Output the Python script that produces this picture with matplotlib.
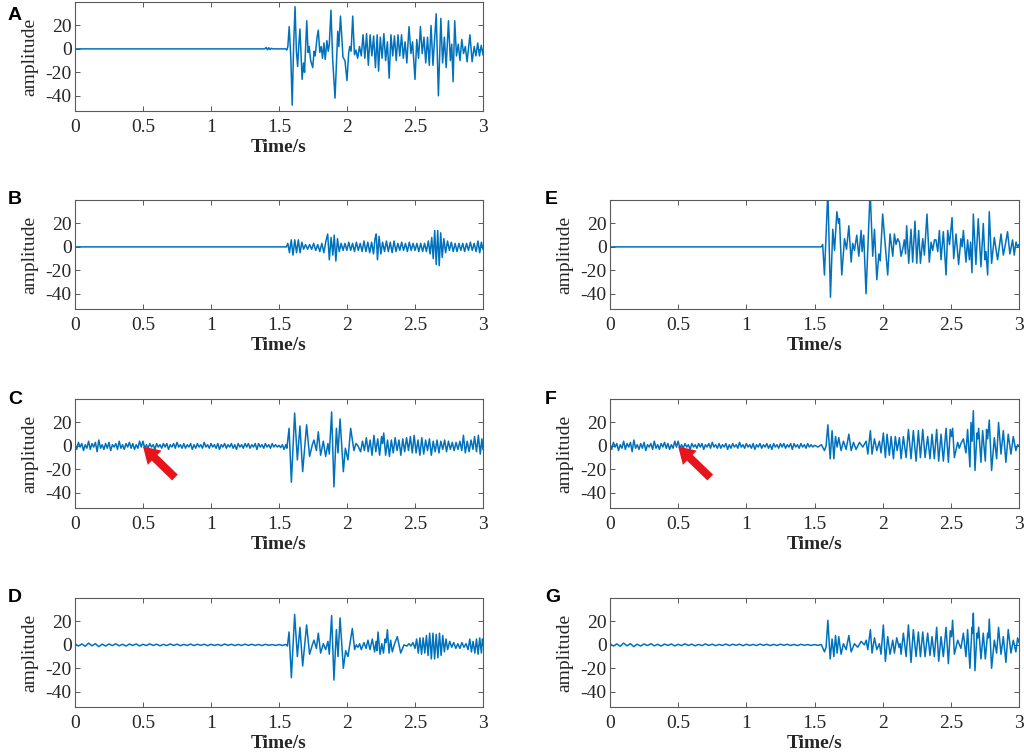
import numpy as np
import matplotlib
matplotlib.use("Agg")
import matplotlib.pyplot as plt

# ---------------- data ----------------
x_ticks = [0, 0.5, 1, 1.5, 2, 2.5, 3]
x_ticklabels = ["0", "0.5", "1", "1.5", "2", "2.5", "3"]
y_ticks = [-40, -20, 0, 20]
y_ticklabels = ["-40", "-20", "0", "20"]
x_range = (0, 3)
y_range = (-53, 40)
panel_letters = ["A", "B", "C", "D", "E", "F", "G"]
x_label = "Time/s"
y_label = "amplitude"

# pre-event noise (C and F), sampled every 0.0125 s from t = 0
noise_dt = 0.0125
noise_CF = [2, -3, 3, -1, 2, -4, 1, -2, 4, -3, 2, -1, 3, -5, 5, -2, 1, -3, 2, -2,
            3, -4, 1, -1, 2, -3, 4, -2, 1, -3, 2, -1, 3, -2, 2, -3, 1, -2, 4, -1,
            4, -2, 1, -2, 2, -1, 1, -3, 2, -1, 1, -2, 2, -1, 2, -3, 1, -1, 2, -2,
            3, -1, 1, -2, 2, -2, 1, -1, 2, -3, 1, -2, 2, -1, 1, -2, 3, -1, 1, -2,
            2, -1, 1, -2, 2, -3, 1, -1, 2, -2, 1, -1, 2, -2, 1, -3, 2, -1, 1, -2,
            2, -1, 2, -2, 1, -1, 2, -3, 2, -1, 1, -2, 2, -1, 1, -2, 2, -1, 1, -1]
# pre-event noise (D and G), sampled every 0.025 s from t = 0
small_dt = 0.025
noise_DG = [1, -1, 0.8, -1.2, 1.5, -0.8, 1, -1.5, 0.6, -1, 0.8, -0.6, 1, -0.8, 0.5,
            -1, 0.7, -0.5, 0.8, -0.9, 0.5, -0.6, 0.9, -0.5, 0.6, -0.8, 0.4, -0.6, 0.8, -0.5,
            0.6, -0.7, 0.4, -0.5, 0.7, -0.6, 0.5, -0.4, 0.6, -0.7, 0.5, -0.5, 0.4, -0.6, 0.7,
            -0.4, 0.5, -0.6, 0.4, -0.5, 0.6, -0.4, 0.5, -0.5, 0.4, -0.6, 0.5, -0.4, 0.3, -0.5]

# turning points (time s, amplitude) of each record
peaks_A = [(0, 0), (1.395, 0), (1.405, 1.2), (1.415, -0.8), (1.425, 1.0), (1.435, -0.6), (1.445, 0.5),
           (1.455, 0), (1.55, 0), (1.558, -1), (1.565, 2), (1.575, 19), (1.587, -8), (1.597, -48),
           (1.608, 5), (1.618, 36), (1.628, -2), (1.637, -15), (1.646, 4), (1.654, 17), (1.662, -5),
           (1.670, -26), (1.680, -12), (1.688, -20), (1.698, 8), (1.704, 24), (1.714, -3), (1.722, 2),
           (1.733, -10), (1.748, -16), (1.758, -2), (1.766, -6), (1.780, 10), (1.789, 16), (1.800, -3),
           (1.810, 2), (1.820, -8), (1.830, 5), (1.840, -9), (1.852, 7), (1.862, -2), (1.870, 4),
           (1.882, 33), (1.895, -10), (1.912, -42), (1.925, -4), (1.932, 15), (1.940, 2), (1.952, 28),
           (1.962, 10), (1.970, -7), (1.985, -10), (2.000, -27), (2.012, -4), (2.020, 2), (2.030, -2),
           (2.042, 28), (2.055, -5), (2.066, -1), (2.078, -8), (2.092, 2), (2.105, -6), (2.118, 12),
           (2.131, -8), (2.144, 13), (2.157, -14), (2.170, 12), (2.183, -6), (2.196, 11), (2.209, -16),
           (2.222, 12), (2.232, -19), (2.245, 10), (2.258, -8), (2.271, 13), (2.284, -10), (2.297, 6),
           (2.310, -25), (2.323, 12), (2.336, -6), (2.349, 11), (2.362, -10), (2.375, 12), (2.388, -6),
           (2.401, 12), (2.414, -8), (2.427, 6), (2.440, -12), (2.456, 19), (2.470, -4), (2.482, 6),
           (2.500, -26), (2.513, 8), (2.526, -8), (2.540, 19), (2.553, -4), (2.566, 10), (2.579, -12),
           (2.592, 10), (2.605, -14), (2.618, 20), (2.632, -14), (2.656, 30), (2.672, -40), (2.690, 26),
           (2.703, -12), (2.716, 10), (2.729, -16), (2.746, 24), (2.760, -10), (2.770, 4), (2.780, -28),
           (2.792, 24), (2.805, -6), (2.818, 4), (2.831, -10), (2.844, 8), (2.857, -4), (2.870, 2),
           (2.883, -11), (2.904, 12), (2.920, -11), (2.935, 2), (2.948, -6), (2.961, 5), (2.974, -6),
           (2.987, 3), (3.0, -5)]

peaks_B = [(0, 0), (1.555, 0), (1.565, 3), (1.577, -5), (1.590, 6), (1.603, -7), (1.616, 6), (1.629, -5),
           (1.642, 6), (1.655, -5), (1.668, 4), (1.681, -2), (1.695, 2), (1.710, -2), (1.725, 2),
           (1.740, -2), (1.755, 3), (1.770, -3), (1.785, 2), (1.800, -4), (1.815, 3), (1.830, -5),
           (1.845, 5), (1.858, 11), (1.870, -11), (1.883, 8), (1.896, -7), (1.906, 10), (1.918, -12),
           (1.930, 7), (1.943, -4), (1.957, 3), (1.971, -3), (1.985, 3), (1.999, -3), (2.013, 4),
           (2.027, -3), (2.041, 3), (2.055, -4), (2.069, 4), (2.083, -3), (2.097, 3), (2.111, -4),
           (2.125, 5), (2.139, -4), (2.153, 4), (2.167, -5), (2.181, 4), (2.195, -6), (2.206, 7),
           (2.215, 11), (2.224, -11), (2.236, 9), (2.249, -6), (2.262, 4), (2.276, -4), (2.290, 5),
           (2.304, -4), (2.318, 4), (2.332, -5), (2.346, 5), (2.360, -4), (2.374, 3), (2.388, -3),
           (2.402, 4), (2.416, -3), (2.430, 3), (2.444, -4), (2.458, 4), (2.472, -3), (2.486, 3),
           (2.500, -3), (2.514, 3), (2.528, -4), (2.542, 3), (2.556, -4), (2.570, 3), (2.584, -4),
           (2.598, 5), (2.611, -6), (2.623, 8), (2.634, -10), (2.645, 14), (2.656, -15), (2.667, 14),
           (2.678, -16), (2.689, 12), (2.700, -9), (2.712, 7), (2.725, -5), (2.739, 5), (2.753, -3),
           (2.767, 4), (2.781, -4), (2.795, 3), (2.809, -4), (2.823, 3), (2.837, -3), (2.851, 3),
           (2.865, -4), (2.879, 3), (2.893, -3), (2.907, 4), (2.921, -3), (2.935, 3), (2.949, -4),
           (2.963, 5), (2.976, -5), (2.988, 4), (3.0, -2)]

peaks_C = [(1.500, 0.5), (1.512, -1.5), (1.525, 1), (1.537, -3), (1.550, 1), (1.558, -2), (1.574, 15),
           (1.591, -31), (1.615, 28), (1.635, -12), (1.654, 17), (1.674, -22), (1.703, 18), (1.725, -9),
           (1.745, 1), (1.757, 5), (1.775, -4), (1.789, 12), (1.806, -8), (1.826, 4), (1.843, -9),
           (1.860, 2), (1.870, -7), (1.887, 29), (1.904, -35), (1.922, 15), (1.934, -6), (1.949, 23),
           (1.973, -22), (1.988, -2), (2.007, -12), (2.027, 15), (2.051, -4), (2.066, 2), (2.081, 0),
           (2.100, -5), (2.114, 4), (2.128, -4), (2.142, 7), (2.156, -5), (2.170, 5), (2.184, -8),
           (2.198, 9), (2.212, -5), (2.226, 6), (2.240, -8), (2.254, 8), (2.262, 2), (2.270, 11),
           (2.284, -8), (2.298, 5), (2.312, -9), (2.326, 5), (2.340, -6), (2.354, 7), (2.368, -4),
           (2.382, 5), (2.396, -8), (2.410, 6), (2.424, -5), (2.438, 7), (2.452, -4), (2.466, 8),
           (2.480, -6), (2.494, 9), (2.508, -6), (2.522, 5), (2.536, -8), (2.550, 7), (2.564, -7),
           (2.578, 5), (2.592, -4), (2.606, 6), (2.620, -8), (2.634, 4), (2.648, -5), (2.662, 5),
           (2.676, -6), (2.690, 4), (2.704, -3), (2.718, 5), (2.732, -5), (2.746, 4), (2.760, -3),
           (2.774, 3), (2.788, -4), (2.802, 3), (2.816, -3), (2.830, 4), (2.844, -4), (2.856, 9),
           (2.870, -6), (2.884, 4), (2.898, -5), (2.912, 5), (2.926, -3), (2.938, 8), (2.952, -5),
           (2.966, 9), (2.980, -7), (2.992, 6), (3.0, -3)]

peaks_D = [(1.500, 0.3), (1.525, -0.5), (1.550, 0.4), (1.562, -1), (1.574, 11), (1.591, -28), (1.615, 26),
           (1.635, -10), (1.654, 15), (1.674, -18), (1.703, 17), (1.725, -8), (1.745, 0), (1.757, 4),
           (1.775, -3), (1.789, 10), (1.806, -7), (1.826, 1), (1.843, -4), (1.860, 3), (1.870, -8),
           (1.887, 25), (1.904, -30), (1.922, 13), (1.934, -10), (1.949, 23), (1.973, -20), (1.990, -5),
           (2.007, -10), (2.039, 14), (2.056, -4), (2.068, 0), (2.081, -2), (2.093, 1), (2.105, -4),
           (2.125, 2), (2.140, -3), (2.154, 4), (2.169, -4), (2.186, 5), (2.203, -6), (2.214, 3),
           (2.220, -5), (2.228, 11), (2.243, -8), (2.256, 1), (2.268, -7), (2.280, 5), (2.288, 2),
           (2.297, 13), (2.309, -7), (2.321, 4), (2.333, -6), (2.350, 1), (2.370, 7), (2.395, -7),
           (2.419, 0), (2.440, -1), (2.456, 1), (2.470, -1), (2.485, 2), (2.500, -3), (2.512, 5),
           (2.524, -7), (2.536, 6), (2.548, -8), (2.560, 6), (2.572, -7), (2.584, 8), (2.596, -9),
           (2.608, 10), (2.620, -12), (2.632, 10), (2.644, -12), (2.656, 9), (2.668, -11), (2.680, 10),
           (2.692, -9), (2.704, 8), (2.716, -6), (2.728, 5), (2.740, -4), (2.755, 3), (2.770, -2),
           (2.785, 2), (2.800, -3), (2.815, 1), (2.830, -3), (2.845, 2), (2.860, -2), (2.875, 1),
           (2.890, -4), (2.903, 5), (2.915, -6), (2.927, 3), (2.940, -7), (2.952, 5), (2.964, -8),
           (2.976, 6), (2.988, -7), (2.996, 5), (3.0, 0)]

peaks_E = [(0, 0), (1.549, 0), (1.560, 2), (1.573, -24), (1.598, 48), (1.617, -43), (1.634, 15),
           (1.647, -3), (1.664, 30), (1.676, 20), (1.683, 24), (1.700, -24), (1.720, 7), (1.735, -2),
           (1.752, 18), (1.769, -13), (1.780, 3), (1.793, -3), (1.810, 10), (1.825, -8), (1.842, 14),
           (1.849, -4), (1.861, 10), (1.878, -40), (1.908, 48), (1.927, -8), (1.940, 15), (1.957, -28),
           (1.972, -6), (1.982, -12), (2.000, 28), (2.020, 0), (2.037, -24), (2.054, 11), (2.074, -8),
           (2.086, 11), (2.098, 2), (2.110, 7), (2.123, 4), (2.135, -8), (2.147, -2), (2.159, 6),
           (2.168, -6), (2.176, 18), (2.191, -14), (2.208, 15), (2.220, -13), (2.237, 22), (2.250, -14),
           (2.264, 14), (2.277, -14), (2.294, 7), (2.306, -7), (2.325, 28), (2.342, -13), (2.355, 4),
           (2.367, -3), (2.380, 6), (2.391, 6), (2.404, -4), (2.416, 14), (2.428, -11), (2.445, 13),
           (2.465, -24), (2.477, 14), (2.490, 2), (2.509, 25), (2.521, -10), (2.538, 11), (2.557, -15),
           (2.574, 7), (2.583, 0), (2.592, 14), (2.611, -13), (2.623, 6), (2.636, -11), (2.645, 4),
           (2.655, -22), (2.665, 28), (2.684, -15), (2.701, 24), (2.721, -17), (2.738, 20), (2.750, -11),
           (2.758, -4), (2.770, -24), (2.782, 30), (2.799, -14), (2.819, 8), (2.843, -11), (2.868, 11),
           (2.885, -7), (2.900, 2), (2.916, 13), (2.933, -6), (2.953, 6), (2.965, -7), (2.978, 4),
           (2.990, 0), (3.0, 2)]

peaks_F = [(1.500, 0.5), (1.525, -1), (1.550, 1), (1.573, -4), (1.585, 0), (1.598, 18), (1.615, -11),
           (1.629, 13), (1.642, -11), (1.654, 8), (1.666, -1), (1.678, 7), (1.695, -4), (1.712, 4),
           (1.732, -3), (1.752, 10), (1.769, -4), (1.786, 3), (1.805, -3), (1.830, 3), (1.854, -1),
           (1.879, 4), (1.891, -7), (1.910, 13), (1.922, -7), (1.940, 6), (1.957, -4), (1.976, 4),
           (1.988, -6), (2.005, 11), (2.020, -10), (2.032, 10), (2.049, -8), (2.062, 8), (2.079, -11),
           (2.093, 8), (2.106, -4), (2.123, 7), (2.135, -11), (2.152, 8), (2.172, -10), (2.189, 14),
           (2.208, -11), (2.225, 13), (2.245, -13), (2.262, 13), (2.277, -10), (2.294, 14), (2.311, -10),
           (2.330, 8), (2.347, -11), (2.362, 10), (2.379, -11), (2.396, 14), (2.411, -13), (2.428, 10),
           (2.445, -13), (2.465, 15), (2.482, -14), (2.496, 14), (2.505, 8), (2.513, 15), (2.526, -10),
           (2.550, 3), (2.562, -2), (2.574, 2), (2.592, 6), (2.611, -6), (2.623, 14), (2.640, -18),
           (2.648, 20), (2.656, 4), (2.665, 30), (2.677, -21), (2.692, 11), (2.698, 6), (2.704, 15),
           (2.721, -14), (2.733, 13), (2.753, -13), (2.762, 14), (2.770, 6), (2.782, 22), (2.799, -21),
           (2.819, 7), (2.836, -11), (2.850, 20), (2.868, -7), (2.885, 13), (2.904, -14), (2.921, 10),
           (2.941, -7), (2.958, 8), (2.977, -4), (2.990, 1), (3.0, 0)]

peaks_G = [(1.500, 0.3), (1.525, -0.4), (1.550, 0.3), (1.573, -6), (1.585, -2), (1.598, 21), (1.615, -12),
           (1.629, 5), (1.642, -10), (1.654, 8), (1.666, -7), (1.678, 7), (1.695, -8), (1.712, 1),
           (1.732, -4), (1.752, 8), (1.769, -6), (1.793, 1), (1.817, -2), (1.842, 3), (1.866, 0),
           (1.879, 4), (1.891, -4), (1.910, 13), (1.922, -7), (1.940, 6), (1.957, -4), (1.976, 1),
           (1.988, -8), (2.005, 17), (2.020, -14), (2.037, 7), (2.054, -8), (2.074, 4), (2.086, -7),
           (2.103, 6), (2.120, -2), (2.128, 1), (2.135, -8), (2.152, 10), (2.172, -10), (2.189, 17),
           (2.208, -15), (2.225, 13), (2.245, -10), (2.262, 11), (2.277, -10), (2.294, 11), (2.311, -10),
           (2.330, 10), (2.347, -9), (2.362, 7), (2.379, -10), (2.396, 15), (2.411, -14), (2.428, 7),
           (2.445, -10), (2.465, 15), (2.482, -16), (2.496, 12), (2.505, 7), (2.513, 21), (2.526, -8),
           (2.550, 4), (2.574, -3), (2.592, 10), (2.611, -10), (2.623, 13), (2.640, -20), (2.655, 15),
           (2.659, 10), (2.665, 27), (2.677, -22), (2.692, 10), (2.698, 6), (2.704, 15), (2.721, -12),
           (2.738, 10), (2.753, -12), (2.770, 10), (2.776, 6), (2.782, 22), (2.799, -20), (2.819, 4),
           (2.836, -7), (2.850, 15), (2.868, -8), (2.885, 7), (2.904, -15), (2.921, 13), (2.941, -7),
           (2.958, 4), (2.977, -6), (2.990, 6), (3.0, 2)]

# arrow (tip and tail, data coords) on C and F
arrow_tip = (0.5, -0.5)
arrow_tail = (0.735, -27)

# ---------------- figure ----------------
W, H = 1024, 753
fig = plt.figure(figsize=(W / 100, H / 100), dpi=100)

line_color = "#0072BD"
frame_color = "#5a5a5a"
text_color = "#262626"
serif = ["Liberation Serif", "DejaVu Serif"]


def build(peaks, noise=None, dt=None):
    t_p = [p[0] for p in peaks]
    a_p = [p[1] for p in peaks]
    if noise is None:
        return np.array(t_p), np.array(a_p)
    t_n = list(np.arange(len(noise)) * dt)
    return np.array(t_n + t_p), np.array(list(noise) + a_p)


series = {
    "A": build(peaks_A),
    "B": build(peaks_B),
    "C": build(peaks_C, noise_CF, noise_dt),
    "D": build(peaks_D, noise_DG, small_dt),
    "E": build(peaks_E),
    "F": build(peaks_F, noise_CF, noise_dt),
    "G": build(peaks_G, noise_DG, small_dt),
}

row_tops = [2, 200, 399, 598]
ax_h = 109
col_left = [75, 610]
col_w = [408, 409]
layout = {"A": (0, 0), "B": (0, 1), "C": (0, 2), "D": (0, 3),
          "E": (1, 1), "F": (1, 2), "G": (1, 3)}
letter_pos = {"A": (8, 15), "B": (8, 200), "C": (8, 399), "D": (8, 597),
              "E": (545, 200), "F": (545, 399), "G": (545, 597)}

for key in panel_letters:
    c, r = layout[key]
    left = col_left[c] / W
    bottom = 1 - (row_tops[r] + ax_h) / H
    ax = fig.add_axes([left, bottom, col_w[c] / W, ax_h / H])
    t, a = series[key]
    ax.plot(t, a, color=line_color, lw=1.1)
    ax.set_xlim(*x_range)
    ax.set_ylim(*y_range)
    ax.set_xticks(x_ticks)
    ax.set_xticklabels(x_ticklabels)
    ax.set_yticks(y_ticks)
    ax.set_yticklabels(y_ticklabels)
    ax.tick_params(direction="in", length=3.5, width=0.7, color=frame_color,
                   top=True, right=True, labelsize=14, labelcolor=text_color)
    ax.tick_params(axis="x", pad=6)
    ax.tick_params(axis="y", pad=2.5)
    for lab in ax.get_xticklabels() + ax.get_yticklabels():
        lab.set_family(serif)
    for sp in ax.spines.values():
        sp.set_color(frame_color)
        sp.set_linewidth(0.8)
    ax.set_xlabel(x_label, family=serif, fontsize=14, fontweight="bold",
                  color=text_color, labelpad=2)
    ax.set_ylabel(y_label, family=serif, fontsize=14, color=text_color, labelpad=5)
    if key in ("C", "F"):
        ax.annotate("", xy=arrow_tip, xytext=arrow_tail,
                    arrowprops=dict(arrowstyle="simple,head_length=0.9,head_width=1.1,tail_width=0.45",
                                    mutation_scale=13, color="#e8141b", shrinkA=0, shrinkB=0, lw=0))
    lx, ly = letter_pos[key]
    fig.text(lx / W, 1 - ly / H, key, fontsize=14, fontweight="bold",
             family=["Liberation Sans", "DejaVu Sans"], ha="left", va="center", color="black")

fig.savefig("out.png", dpi=100)
